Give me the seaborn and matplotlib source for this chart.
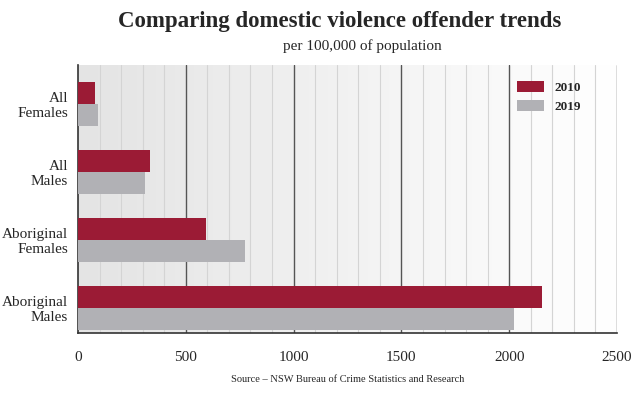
import numpy as np
import pandas as pd
import matplotlib
matplotlib.use("Agg")
import matplotlib.pyplot as plt
from matplotlib.colors import LinearSegmentedColormap
import seaborn as sns

groups = ["All\nFemales", "All\nMales", "Aboriginal\nFemales", "Aboriginal\nMales"]
rate_2010 = [80, 333, 595, 2150]
rate_2019 = [95, 310, 775, 2020]
years = ["2010", "2019"]

df = pd.DataFrame({
    "group": groups * 2,
    "rate": rate_2010 + rate_2019,
    "year": [years[0]] * 4 + [years[1]] * 4,
})

sns.set_theme(style="white")
plt.rcParams["font.family"] = ["Liberation Serif", "DejaVu Serif"]

fig = plt.figure(figsize=(6.41, 3.99), dpi=100)
ax = fig.add_axes([78 / 641, 66 / 399, 539 / 641, 268 / 399])

# soft gray-to-white background
cmap = LinearSegmentedColormap.from_list("bg", ["#e4e4e4", "#f2f2f2", "#ffffff"])
ax.imshow(np.linspace(0, 1, 256)[None, :], extent=[0, 2500, 3.37, -0.57],
          aspect="auto", cmap=cmap, zorder=0)

sns.barplot(data=df, y="group", x="rate", hue="year", orient="h",
            palette=["#9b1b35", "#b1b1b5"], width=0.65, saturation=1,
            linewidth=0, ax=ax, zorder=3)

ax.set_xlim(0, 2500)
ax.set_ylim(3.37, -0.57)

for x in range(100, 2500, 100):
    if x % 500:
        ax.axvline(x, color="#d4d4d4", lw=0.8, zorder=1)
for x in range(500, 2501, 500):
    ax.axvline(x, color="#555555", lw=1.0, zorder=2)

ax.set_xticks(range(0, 2501, 500))
ax.set_yticks(range(len(groups)))
ax.set_yticklabels(groups, ha="right", multialignment="right")
ax.tick_params(axis="x", length=0, pad=13, labelsize=11)
ax.tick_params(axis="y", length=0, pad=7, labelsize=11)

ax.set_xlabel("Source – NSW Bureau of Crime Statistics and Research", fontsize=7.5, labelpad=8)
ax.set_ylabel("")

for side in ["top", "right"]:
    ax.spines[side].set_visible(False)
for side in ["left", "bottom"]:
    ax.spines[side].set_color("#333333")
    ax.spines[side].set_linewidth(1.2)

handles, labels = ax.get_legend_handles_labels()
ax.legend(handles, labels, loc="upper right", bbox_to_anchor=(0.955, 0.985),
          frameon=False, prop={"weight": "bold", "size": 9.5},
          handlelength=2.0, handleheight=0.9, labelspacing=0.45)

fig.text(0.53, 0.945, "Comparing domestic violence offender trends",
         ha="center", va="center", fontsize=16.5, fontweight="bold")
fig.text(0.565, 0.885, "per 100,000 of population", ha="center", va="center", fontsize=11)

fig.savefig("out.png", dpi=100, facecolor="white")
